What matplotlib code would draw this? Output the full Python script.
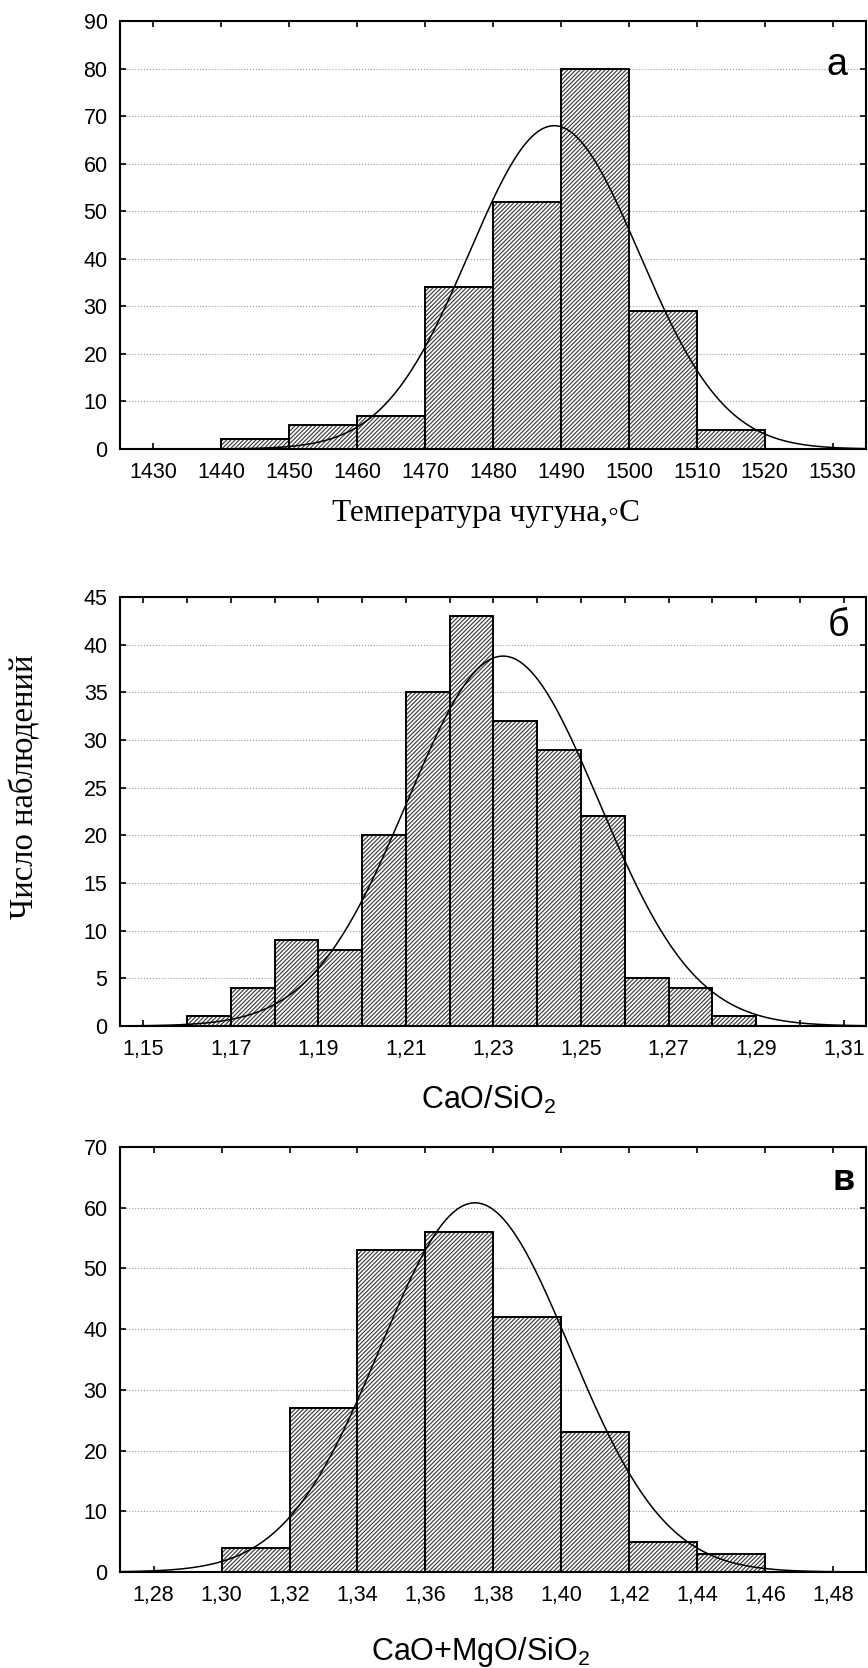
import matplotlib
matplotlib.use("Agg")
import matplotlib.pyplot as plt
import numpy as np

# --- data ---
# а: температура чугуна
temp_edges = [1440, 1450, 1460, 1470, 1480, 1490, 1500, 1510, 1520]
temp_counts = [2, 5, 7, 34, 52, 80, 29, 4]
temp_fit = (1489.0, 12.5)          # mean, sd of fitted normal
temp_ticks = [1430, 1440, 1450, 1460, 1470, 1480, 1490, 1500, 1510, 1520, 1530]
temp_ticklabels = ['1430', '1440', '1450', '1460', '1470', '1480', '1490', '1500', '1510', '1520', '1530']

# б: CaO/SiO2
bas_edges = [1.16, 1.17, 1.18, 1.19, 1.20, 1.21, 1.22, 1.23, 1.24, 1.25, 1.26, 1.27, 1.28, 1.29]
bas_counts = [1, 4, 9, 8, 20, 35, 43, 32, 29, 22, 5, 4, 1]
bas_fit = (1.2322, 0.0219)
bas_ticks = [1.15, 1.17, 1.19, 1.21, 1.23, 1.25, 1.27, 1.29, 1.31]
bas_ticklabels = ['1,15', '1,17', '1,19', '1,21', '1,23', '1,25', '1,27', '1,29', '1,31']

# в: CaO+MgO/SiO2
bas2_edges = [1.30, 1.32, 1.34, 1.36, 1.38, 1.40, 1.42, 1.44, 1.46]
bas2_counts = [4, 27, 53, 56, 42, 23, 5, 3]
bas2_fit = (1.3746, 0.02795)
bas2_ticks = [1.28, 1.30, 1.32, 1.34, 1.36, 1.38, 1.40, 1.42, 1.44, 1.46, 1.48]
bas2_ticklabels = ['1,28', '1,30', '1,32', '1,34', '1,36', '1,38', '1,40', '1,42', '1,44', '1,46', '1,48']

plt.rcParams['font.family'] = ['Liberation Sans', 'DejaVu Sans']
plt.rcParams['mathtext.fontset'] = 'custom'
plt.rcParams['mathtext.rm'] = 'Liberation Sans'
plt.rcParams['mathtext.it'] = 'Liberation Sans'
plt.rcParams['hatch.linewidth'] = 0.85

W, H = 868, 1668
fig = plt.figure(figsize=(W / 100, H / 100), dpi=100)


def make_axes(top_px, bottom_px):
    return fig.add_axes([120 / W, 1 - bottom_px / H, 746 / W, (bottom_px - top_px) / H])


def draw_hist(ax, edges, counts, fit, xlim, ylim, yticks, xticks, xticklabels, minor=None):
    edges = np.array(edges)
    widths = np.diff(edges)
    # hatch layer
    ax.bar(edges[:-1], counts, width=widths, align='edge', facecolor='white',
           edgecolor='#3c3c3c', linewidth=0, hatch='////////', zorder=2)
    # outlines
    ax.bar(edges[:-1], counts, width=widths, align='edge', fill=False,
           edgecolor='black', linewidth=1.4, zorder=3)
    # fitted normal curve scaled to counts
    mu, sd = fit
    n = sum(counts)
    x = np.linspace(xlim[0], xlim[1], 400)
    y = n * widths[0] / (sd * np.sqrt(2 * np.pi)) * np.exp(-0.5 * ((x - mu) / sd) ** 2)
    ax.plot(x, y, color='black', linewidth=1.1, zorder=4)

    ax.set_xlim(*xlim)
    ax.set_ylim(*ylim)
    ax.set_yticks(yticks)
    ax.set_xticks(xticks)
    ax.set_xticklabels(xticklabels)
    if minor is not None:
        ax.set_xticks(minor, minor=True)
    ax.yaxis.grid(True, linestyle=':', color='#9a9a9a', linewidth=0.8)
    ax.set_axisbelow(True)
    ax.tick_params(which='both', direction='in', top=True, right=True, length=4,
                   width=1.2, labelsize=15.5, pad=9)
    for s in ax.spines.values():
        s.set_linewidth(1.5)


ax1 = make_axes(21, 449)
draw_hist(ax1, temp_edges, temp_counts, temp_fit, (1425.1, 1534.9), (0, 90),
          range(0, 91, 10), temp_ticks, temp_ticklabels)
ax1.text(837 / W, 1 - 65 / H, 'а', transform=fig.transFigure, fontsize=27,
         ha='center', va='center')

ax2 = make_axes(597, 1026)
draw_hist(ax2, bas_edges, bas_counts, bas_fit, (1.1447, 1.3151), (0, 45),
          range(0, 46, 5), bas_ticks, bas_ticklabels,
          minor=[1.16, 1.18, 1.20, 1.22, 1.24, 1.26, 1.28, 1.30])
ax2.text(838 / W, 1 - 626 / H, 'б', transform=fig.transFigure, fontsize=27,
         ha='center', va='center')

ax3 = make_axes(1147, 1572)
draw_hist(ax3, bas2_edges, bas2_counts, bas2_fit, (1.2701, 1.4897), (0, 70),
          range(0, 71, 10), bas2_ticks, bas2_ticklabels)
ax3.text(844 / W, 1 - 1180 / H, 'в', transform=fig.transFigure, fontsize=26,
         fontweight='bold', ha='center', va='center')

# axis titles
serif = ['Liberation Serif', 'DejaVu Serif', 'DejaVu Sans']
fig.text(486 / W, 1 - 513 / H, 'Температура чугуна,◦C', family=serif,
         fontsize=22.5, ha='center', va='center')
fig.text(489 / W, 1 - 1100 / H, 'CaO/SiO$_2$', fontsize=22,
         ha='center', va='center')
fig.text(481 / W, 1 - 1652 / H, 'CaO+MgO/SiO$_2$', fontsize=22,
         ha='center', va='center')
fig.text(25 / W, 1 - 787 / H, 'Число наблюдений', family=serif,
         fontsize=23.5, rotation=90, ha='center', va='center')

fig.savefig('out.png', dpi=100)
